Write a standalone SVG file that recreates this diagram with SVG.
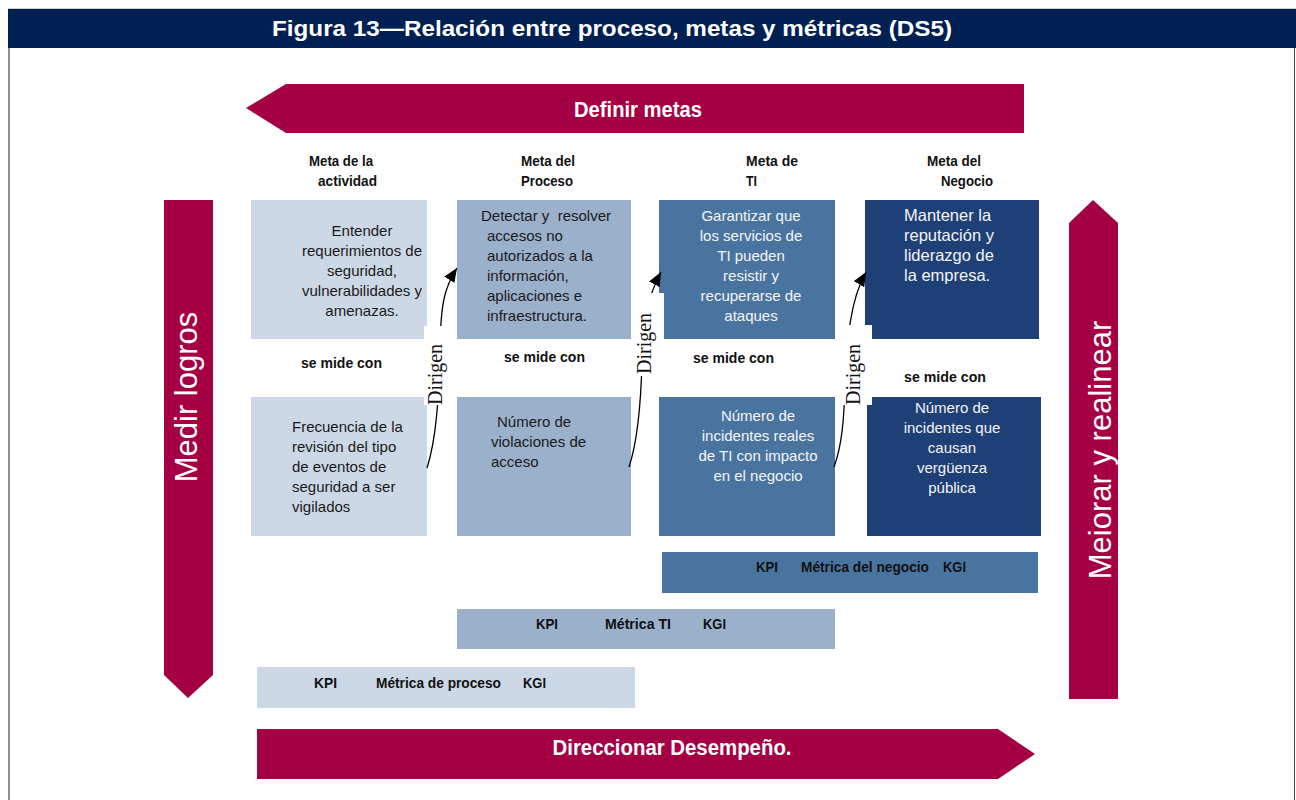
<svg xmlns="http://www.w3.org/2000/svg" width="1296" height="800" viewBox="0 0 1296 800">
<defs>
<style>
.bg{fill:#ffffff}
.crim{fill:#a50044}
.c1{fill:#cdd8e6}
.c2{fill:#9bb0cb}
.c3{fill:#4a74a0}
.c4{fill:#1f3f77}
.t{font-family:"Liberation Sans",Arial,sans-serif;font-size:15px;fill:#1a1a1a}
.tw{font-family:"Liberation Sans",Arial,sans-serif;font-size:15px;fill:#f4f4f4}
.tw2{font-family:"Liberation Sans",Arial,sans-serif;font-size:16.5px;fill:#f4f4f4}
.h{font-family:"Liberation Sans",Arial,sans-serif;font-size:15px;font-weight:bold;fill:#111}
.big{font-family:"Liberation Sans",Arial,sans-serif;font-size:22px;font-weight:bold;fill:#ffffff}
.vert{font-family:"Liberation Sans",Arial,sans-serif;font-size:31px;fill:#ffffff}
.dir{font-family:"Liberation Serif","Times New Roman",serif;font-size:20px;fill:#111}
.conn{fill:none;stroke:#000;stroke-width:1.3}
</style>
<marker id="ah" markerUnits="userSpaceOnUse" markerWidth="16" markerHeight="14" refX="14" refY="6" orient="auto">
<path d="M0,0 L14,6 L0,12 Z" fill="#000"/>
</marker>
</defs>
<rect class="bg" x="0" y="0" width="1296" height="800"/>
<g id="frame">
<line x1="8" y1="8.5" x2="1296" y2="8.5" stroke="#cfcfcf" stroke-width="1"/>
<rect x="8" y="9" width="1288" height="39" fill="#001f52"/>
<line x1="9" y1="48" x2="9" y2="800" stroke="#444" stroke-width="1.2"/>
<line x1="1294.5" y1="48" x2="1294.5" y2="800" stroke="#444" stroke-width="1"/>
<text class="big" x="612" y="36" text-anchor="middle" font-size="21" textLength="680" lengthAdjust="spacingAndGlyphs">Figura 13—Relación entre proceso, metas y métricas (DS5)</text>
</g>
<g id="definir-metas">
<polygon class="crim" points="246,108 286,84 1024,84 1024,133 286,133"/>
<text class="big" x="638" y="117" text-anchor="middle" textLength="128" lengthAdjust="spacingAndGlyphs">Definir metas</text>
</g>
<g id="medir-logros">
<polygon class="crim" points="164,200 213,200 213,675 188,698 164,675"/>
<text class="vert" transform="translate(197,397) rotate(-90)" text-anchor="middle">Medir logros</text>
</g>
<g id="mejorar-realinear">
<polygon class="crim" points="1069,223 1093,200 1118,223 1118,699 1069,699"/>
<text class="vert" transform="translate(1111,450) rotate(-90)" text-anchor="middle">Meiorar y realinear</text>
</g>
<g id="direccionar">
<polygon class="crim" points="257,729 998,729 1035,754 998,779 257,779"/>
<text class="big" x="672" y="755" text-anchor="middle" textLength="239" lengthAdjust="spacingAndGlyphs">Direccionar Desempeño.</text>
</g>
<g id="headers">
<text class="h" x="309" y="166" textLength="64" lengthAdjust="spacingAndGlyphs">Meta de la</text>
<text class="h" x="318" y="186" textLength="59" lengthAdjust="spacingAndGlyphs">actividad</text>
<text class="h" x="521" y="166" textLength="54" lengthAdjust="spacingAndGlyphs">Meta del</text>
<text class="h" x="521" y="186" textLength="52" lengthAdjust="spacingAndGlyphs">Proceso</text>
<text class="h" x="746" y="166" textLength="52" lengthAdjust="spacingAndGlyphs">Meta de</text>
<text class="h" x="746" y="186" textLength="11" lengthAdjust="spacingAndGlyphs">TI</text>
<text class="h" x="927" y="166" textLength="54" lengthAdjust="spacingAndGlyphs">Meta del</text>
<text class="h" x="941" y="186" textLength="52" lengthAdjust="spacingAndGlyphs">Negocio</text>
</g>
<g id="meta-actividad">
<rect class="c1" x="251" y="200" width="176" height="139"/>
<text class="t" text-anchor="middle"><tspan x="362" y="236">Entender</tspan><tspan x="362" y="256">requerimientos de</tspan><tspan x="362" y="276">seguridad,</tspan><tspan x="362" y="296">vulnerabilidades y</tspan><tspan x="362" y="316">amenazas.</tspan></text>
</g>
<g id="meta-proceso">
<rect class="c2" x="457" y="200" width="174" height="139"/>
<text class="t"><tspan x="481" y="221">Detectar y&#160; resolver</tspan><tspan x="487" y="241">accesos no</tspan><tspan x="487" y="261">autorizados a la</tspan><tspan x="487" y="281">información,</tspan><tspan x="487" y="301">aplicaciones e</tspan><tspan x="487" y="321">infraestructura.</tspan></text>
</g>
<g id="meta-ti">
<rect class="c3" x="659" y="200" width="176" height="139"/>
<text class="tw" text-anchor="middle"><tspan x="751" y="221">Garantizar que</tspan><tspan x="751" y="241">los servicios de</tspan><tspan x="751" y="261">TI pueden</tspan><tspan x="751" y="281">resistir y</tspan><tspan x="751" y="301">recuperarse de</tspan><tspan x="751" y="321">ataques</tspan></text>
</g>
<g id="meta-negocio">
<rect class="c4" x="865" y="200" width="174" height="139"/>
<text class="tw2"><tspan x="904" y="221">Mantener la</tspan><tspan x="904" y="241">reputación y</tspan><tspan x="904" y="261">liderazgo de</tspan><tspan x="904" y="281">la empresa.</tspan></text>
</g>
<g id="se-mide-con">
<text class="h" x="301" y="368" textLength="81" lengthAdjust="spacingAndGlyphs">se mide con</text>
<text class="h" x="504" y="362" textLength="81" lengthAdjust="spacingAndGlyphs">se mide con</text>
<text class="h" x="693" y="363" textLength="81" lengthAdjust="spacingAndGlyphs">se mide con</text>
<text class="h" x="904" y="382" textLength="82" lengthAdjust="spacingAndGlyphs">se mide con</text>
</g>
<g id="metrica-actividad">
<rect class="c1" x="251" y="397" width="176" height="139"/>
<text class="t"><tspan x="292" y="432">Frecuencia de la</tspan><tspan x="292" y="452">revisión del tipo</tspan><tspan x="292" y="472">de eventos de</tspan><tspan x="292" y="492">seguridad a ser</tspan><tspan x="292" y="512">vigilados</tspan></text>
</g>
<g id="metrica-proceso">
<rect class="c2" x="457" y="397" width="174" height="139"/>
<text class="t"><tspan x="497" y="427">Número de</tspan><tspan x="491" y="447">violaciones de</tspan><tspan x="491" y="467">acceso</tspan></text>
</g>
<g id="metrica-ti">
<rect class="c3" x="659" y="397" width="176" height="139"/>
<text class="tw" text-anchor="middle"><tspan x="758" y="421">Número de</tspan><tspan x="758" y="441">incidentes reales</tspan><tspan x="758" y="461">de TI con impacto</tspan><tspan x="758" y="481">en el negocio</tspan></text>
</g>
<g id="metrica-negocio">
<rect class="c4" x="867" y="397" width="174" height="139"/>
<text class="tw" text-anchor="middle"><tspan x="952" y="413">Número de</tspan><tspan x="952" y="433">incidentes que</tspan><tspan x="952" y="453">causan</tspan><tspan x="952" y="473">vergüenza</tspan><tspan x="952" y="493">pública</tspan></text>
</g>
<g id="kpi-negocio">
<rect class="c3" x="662" y="552" width="376" height="41"/>
<text class="h" x="756" y="572" textLength="22" lengthAdjust="spacingAndGlyphs">KPI</text>
<text class="h" x="801" y="572" textLength="128" lengthAdjust="spacingAndGlyphs">Métrica del negocio</text>
<text class="h" x="943" y="572" textLength="23" lengthAdjust="spacingAndGlyphs">KGI</text>
</g>
<g id="kpi-ti">
<rect class="c2" x="457" y="609" width="378" height="40"/>
<text class="h" x="536" y="629" textLength="22" lengthAdjust="spacingAndGlyphs">KPI</text>
<text class="h" x="605" y="629" textLength="66" lengthAdjust="spacingAndGlyphs">Métrica TI</text>
<text class="h" x="703" y="629" textLength="23" lengthAdjust="spacingAndGlyphs">KGI</text>
</g>
<g id="kpi-proceso">
<rect class="c1" x="257" y="667" width="378" height="41"/>
<text class="h" x="314" y="688" textLength="23" lengthAdjust="spacingAndGlyphs">KPI</text>
<text class="h" x="376" y="688" textLength="125" lengthAdjust="spacingAndGlyphs">Métrica de proceso</text>
<text class="h" x="523" y="688" textLength="23" lengthAdjust="spacingAndGlyphs">KGI</text>
</g>
<g id="connectors">
<path class="conn" marker-end="url(#ah)" d="M427,468 C436,440 439,400 440,345 C441,305 444,288 457,268"/>
<path class="conn" marker-end="url(#ah)" d="M629,467 C638,440 641,405 642,360 C644,320 647,298 661,272"/>
<path class="conn" marker-end="url(#ah)" d="M834,467 C842,445 844,420 845,385 C847,340 850,300 866,272"/>
<rect class="bg" x="424" y="326" width="31" height="79"/>
<text class="dir" transform="translate(442,405) rotate(-90)">Dirigen</text>
<rect class="bg" x="633" y="293" width="31" height="83"/>
<text class="dir" transform="translate(651,374) rotate(-90)">Dirigen</text>
<rect class="bg" x="836" y="325" width="36" height="80"/>
<text class="dir" transform="translate(860,405) rotate(-90)">Dirigen</text>
</g>
</svg>
